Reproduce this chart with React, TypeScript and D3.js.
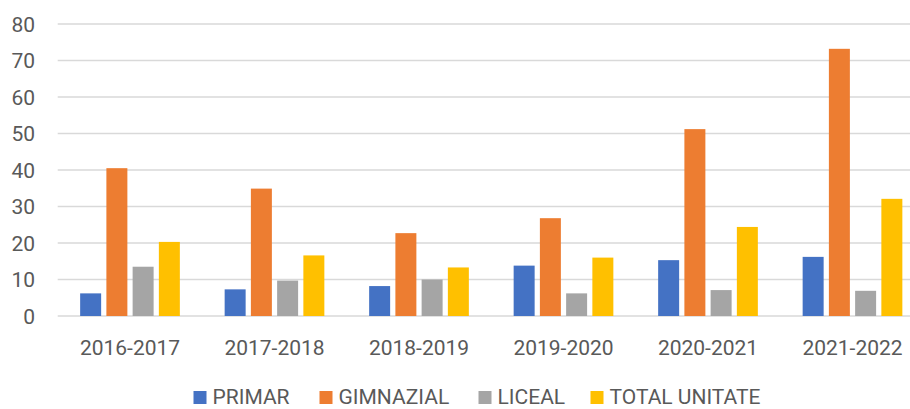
import React from "react";
import * as d3 from "d3";

const categories = ["2016-2017", "2017-2018", "2018-2019", "2019-2020", "2020-2021", "2021-2022"];
const seriesNames = ["PRIMAR", "GIMNAZIAL", "LICEAL", "TOTAL UNITATE"];
const primar = [6.2, 7.3, 8.2, 13.8, 15.3, 16.2];
const gimnazial = [40.5, 34.9, 22.7, 26.8, 51.2, 73.2];
const liceal = [13.5, 9.7, 10.0, 6.2, 7.1, 6.9];
const totalUnitate = [20.3, 16.6, 13.3, 16.0, 24.4, 32.1];
const yTicks = [0, 10, 20, 30, 40, 50, 60, 70, 80];
const colors = ["#4472C4", "#ED7D31", "#A5A5A5", "#FFC000"];

const W = 910;
const H = 409;
const FONT = "Roboto, 'Noto Sans', sans-serif";
const TEXT = "#595959";

export default function App() {
  const seriesValues = [primar, gimnazial, liceal, totalUnitate];
  const x0 = d3.scaleBand<string>().domain(categories).range([57.75, 924.75]).paddingInner(0).paddingOuter(0);
  const x1 = d3.scaleBand<string>().domain(seriesNames).range([0, 99.7]).paddingInner(0.2).paddingOuter(0);
  const y = d3.scaleLinear().domain([0, 80]).range([316, 24]);

  const legendX = [193.5, 319.5, 478.5, 590.5];

  return (
    <svg width={W} height={H} style={{ position: "absolute", left: 0, top: 0, background: "#fff" }} fontFamily={FONT}>
      <rect x={0} y={0} width={W} height={H} fill="#fff" />
      {yTicks.map((t) => (
        <g key={t}>
          <line x1={57.7} x2={910} y1={y(t)} y2={y(t)} stroke="#D9D9D9" strokeWidth={1.5} />
          <text x={35} y={y(t)} dy="0.36em" textAnchor="end" fontSize={21} fill={TEXT}>
            {t}
          </text>
        </g>
      ))}
      {categories.map((c, ci) => {
        const cx = (x0(c) as number) + x0.bandwidth() / 2 - 49.85;
        return (
          <g key={c}>
            {seriesNames.map((s, si) => {
              const v = seriesValues[si][ci];
              return (
                <rect
                  key={s}
                  x={cx + (x1(s) as number)}
                  y={y(v)}
                  width={x1.bandwidth()}
                  height={y(0) - y(v)}
                  fill={colors[si]}
                />
              );
            })}
            <text x={(x0(c) as number) + x0.bandwidth() / 2} y={355} textAnchor="middle" fontSize={21} fill={TEXT}>
              {c}
            </text>
          </g>
        );
      })}
      {seriesNames.map((s, si) => (
        <g key={s}>
          <rect x={legendX[si]} y={391} width={13} height={13} fill={colors[si]} />
          <text x={legendX[si] + 19} y={403.5} fontSize={21} fill={TEXT}>
            {s}
          </text>
        </g>
      ))}
    </svg>
  );
}
